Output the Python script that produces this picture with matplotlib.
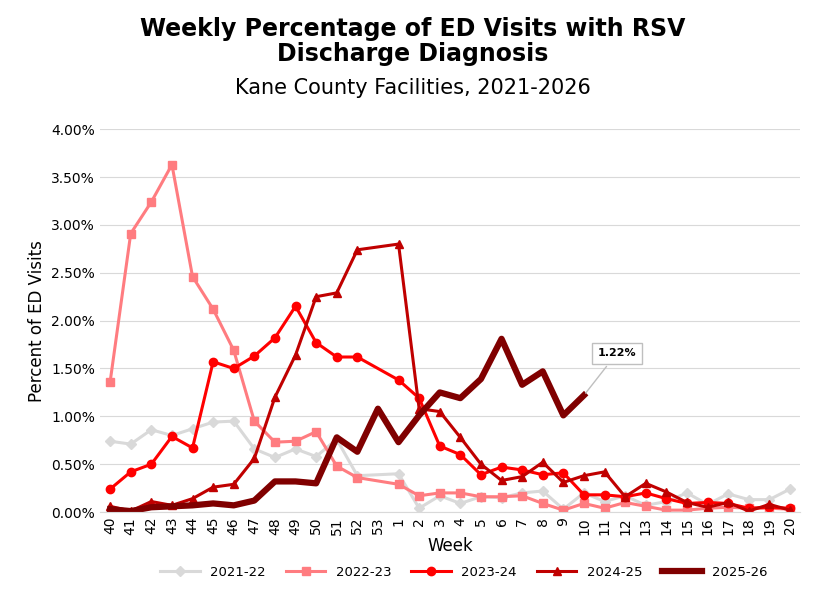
import numpy as np
import matplotlib.pyplot as plt

nan = np.nan
weeks = [str(w) for w in list(range(40, 54)) + list(range(1, 21))]

s2122 = [.74, .71, .86, .80, .87, .94, .95, .66, .57, .66, .58, .76, .38, nan,
         .40, .04, .17, .09, .16, .15, .20, .22, .03, .20, .11, .17, .07, .11, .20, .08, .19, .13, .13, .24]
s2223 = [1.36, 2.91, 3.24, 3.63, 2.46, 2.12, 1.69, .95, .73, .74, .84, .48, .36, nan,
         .29, .17, .20, .20, .16, .16, .17, .09, .02, .09, .04, .10, .06, .02, .02, .04, .05, .04, .04, .03]
s2324 = [.24, .42, .50, .79, .67, 1.57, 1.50, 1.63, 1.82, 2.15, 1.77, 1.62, 1.62, nan,
         1.38, 1.19, .69, .60, .39, .47, .44, .39, .41, .18, .18, .16, .20, .14, .09, .10, .09, .04, .05, .04]
s2425 = [.06, .01, .11, .07, .14, .26, .29, .56, 1.20, 1.64, 2.25, 2.29, 2.74, nan,
         2.80, 1.08, 1.05, .78, .50, .33, .37, .52, .31, .38, .42, .16, .30, .21, .10, .05, .10, .01, .08, .02]
s2526 = [.03, .01, .05, .06, .07, .09, .07, .12, .32, .32, .30, .78, .63, 1.08,
         .73, 1.01, 1.25, 1.19, 1.39, 1.81, 1.33, 1.47, 1.01, 1.22]

fig, ax = plt.subplots(figsize=(8.25, 6.01), dpi=100)
fig.subplots_adjust(left=0.121, right=0.97, top=0.785, bottom=0.148)

series = [(s2122, "2021-22", "#d9d9d9", "D", 2.2, 5),
          (s2223, "2022-23", "#ff7c80", "s", 2.2, 6),
          (s2324, "2023-24", "#ff0000", "o", 2.2, 6),
          (s2425, "2024-25", "#c00000", "^", 2.2, 6),
          (s2526, "2025-26", "#800000", None, 4.5, 0)]

for vals, lab, col, mk, lw, ms in series:
    y = np.array(vals, dtype=float)
    x = np.arange(len(y))
    ok = ~np.isnan(y)
    ax.plot(x[ok], y[ok], color=col, marker=mk, lw=lw, ms=ms, label=lab)

# data label on last point
last = len(s2526) - 1
ax.annotate("1.22%", xy=(last, s2526[-1]), xytext=(last + 1.6, 1.66),
            fontsize=8, fontweight="bold", ha="center", va="center",
            bbox=dict(boxstyle="square,pad=0.5", fc="white", ec="#bfbfbf"),
            arrowprops=dict(arrowstyle="-", color="#bfbfbf"))

ax.set_xlim(-0.5, len(weeks) - 0.5)
ax.set_ylim(0, 4.0)
ax.set_xticks(range(len(weeks)))
ax.set_xticklabels(weeks, rotation=90, fontsize=10)
ax.set_yticks(np.arange(0, 4.01, 0.5))
ax.set_yticklabels(["%.2f%%" % v for v in np.arange(0, 4.01, 0.5)], fontsize=10)
ax.grid(axis="y", color="#d9d9d9")
ax.set_axisbelow(True)
for sp in ["top", "right", "left"]:
    ax.spines[sp].set_visible(False)
ax.spines["bottom"].set_color("#d9d9d9")
ax.tick_params(length=0)
ax.set_xlabel("Week", fontsize=12, labelpad=2)
ax.set_ylabel("Percent of ED Visits", fontsize=12)

fig.text(0.5, 0.972, "Weekly Percentage of ED Visits with RSV\nDischarge Diagnosis",
         ha="center", va="top", fontsize=17, fontweight="bold", linespacing=1.05)
fig.text(0.5, 0.853, "Kane County Facilities, 2021-2026", ha="center", va="center", fontsize=15)

ax.legend(loc="upper center", bbox_to_anchor=(0.52, -0.11), ncol=5, frameon=False,
          fontsize=9.5, handlelength=3, columnspacing=1.5)

fig.savefig("out.png")
